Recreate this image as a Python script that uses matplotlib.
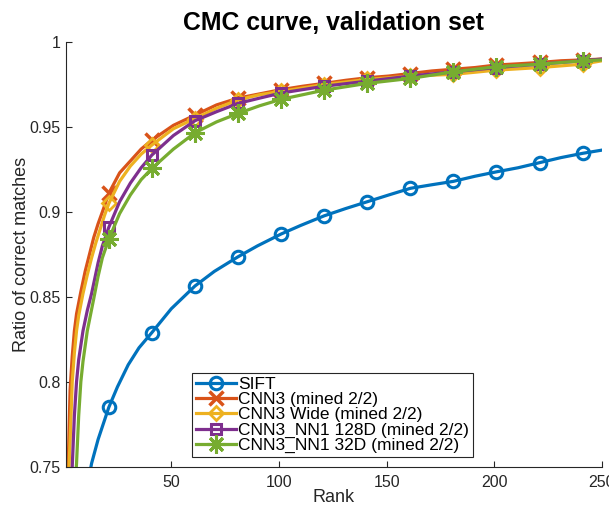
import matplotlib
matplotlib.use("Agg")
import matplotlib.pyplot as plt

plt.rcParams['font.family'] = ['Liberation Sans', 'DejaVu Sans']

# ---- data ----
sift_rank = [1, 5, 10, 13, 16, 21, 25, 30, 35, 41, 50, 61, 70, 81, 90, 101, 110, 121,
             131, 141, 151, 161, 171, 181, 191, 201, 211, 221, 231, 241, 250]
sift_val = [0.55, 0.66, 0.732, 0.752, 0.766, 0.785, 0.797, 0.810, 0.820, 0.829, 0.843,
            0.8564, 0.865, 0.8736, 0.880, 0.887, 0.892, 0.8977, 0.902, 0.906, 0.910,
            0.9139, 0.916, 0.918, 0.921, 0.9236, 0.926, 0.929, 0.932, 0.9345, 0.9364]

cnn3_rank = [1, 2, 3, 4, 5, 6, 8, 10, 12, 14, 16, 18, 21, 26, 31, 36, 41, 51, 61, 71, 81,
             91, 101, 111, 121, 131, 141, 151, 161, 171, 181, 191, 201, 211, 221, 231,
             241, 250]
cnn3_val = [0.70, 0.745, 0.795, 0.815, 0.830, 0.840, 0.853, 0.865, 0.875, 0.885, 0.893,
            0.900, 0.911, 0.923, 0.930, 0.937, 0.9423, 0.951, 0.957, 0.963, 0.967,
            0.9695, 0.972, 0.974, 0.9757, 0.9775, 0.979, 0.980, 0.9815, 0.983, 0.984,
            0.985, 0.9865, 0.9872, 0.988, 0.989, 0.9895, 0.990]

wide_rank = [1, 2, 3, 4, 5, 6, 7, 9, 11, 13, 15, 17, 19, 21, 26, 31, 36, 41, 51, 61, 71,
             81, 91, 101, 121, 141, 161, 181, 201, 221, 241, 250]
wide_val = [0.69, 0.735, 0.765, 0.800, 0.817, 0.830, 0.839, 0.852, 0.863, 0.873, 0.882,
            0.890, 0.898, 0.905, 0.918, 0.927, 0.934, 0.9394, 0.949, 0.955, 0.961,
            0.966, 0.969, 0.971, 0.975, 0.978, 0.980, 0.981, 0.9835, 0.985, 0.987, 0.989]

nn128_rank = [1, 3, 4, 5, 6, 7, 9, 11, 13, 16, 18, 21, 26, 31, 36, 41, 51, 61, 71, 81,
              91, 101, 121, 141, 161, 181, 201, 221, 241, 250]
nn128_val = [0.65, 0.72, 0.75, 0.780, 0.800, 0.813, 0.830, 0.842, 0.852, 0.870, 0.880,
             0.891, 0.906, 0.917, 0.926, 0.9335, 0.945, 0.9537, 0.959, 0.9639, 0.967,
             0.970, 0.974, 0.977, 0.980, 0.9825, 0.985, 0.987, 0.989, 0.990]

nn32_rank = [1, 4, 6, 7, 8, 9, 11, 14, 16, 18, 21, 26, 31, 36, 41, 51, 61, 71, 81, 91,
             101, 121, 141, 161, 181, 201, 221, 241, 250]
nn32_val = [0.62, 0.71, 0.752, 0.780, 0.800, 0.812, 0.830, 0.849, 0.862, 0.873, 0.884,
            0.899, 0.910, 0.919, 0.9256, 0.937, 0.9466, 0.953, 0.958, 0.9625, 0.9663,
            0.9717, 0.9757, 0.9786, 0.9825, 0.9855, 0.987, 0.989, 0.9895]

marker_ranks = [1, 21, 41, 61, 81, 101, 121, 141, 161, 181, 201, 221, 241]

labels = ['SIFT', 'CNN3 (mined 2/2)', 'CNN3 Wide (mined 2/2)',
          'CNN3_NN1 128D (mined 2/2)', 'CNN3_NN1 32D (mined 2/2)']
xticks = [50, 100, 150, 200, 250]
yticks = [0.75, 0.8, 0.85, 0.9, 0.95, 1.0]
ytick_labels = ['0.75', '0.8', '0.85', '0.9', '0.95', '1']

series = [(sift_rank, sift_val), (cnn3_rank, cnn3_val), (wide_rank, wide_val),
          (nn128_rank, nn128_val), (nn32_rank, nn32_val)]
colors = ['#0072BD', '#D95319', '#EDB120', '#7E2F8E', '#77AC30']
markers = ['o', 'x', 'D', 's', (8, 2, 0)]
msizes = [9, 10, 7, 7.5, 13]
mews = [2.2, 2.5, 2.0, 2.2, 2.2]

fig = plt.figure(figsize=(6.09, 5.07), dpi=100)
ax = fig.add_axes([0.108, 0.0795, 0.8805, 0.8375])

for (r, v), c, m, ms, mew, lab in zip(series, colors, markers, msizes, mews, labels):
    idx = [i for i, rv in enumerate(r) if rv in marker_ranks]
    ax.plot(r, v, color=c, lw=2.3, marker=m, markevery=idx, ms=ms, mew=mew,
            mfc='none', mec=c, label=lab)

ax.set_xlim(1, 250)
ax.set_ylim(0.75, 1.0)
ax.set_xticks(xticks)
ax.set_yticks(yticks)
ax.set_yticklabels(ytick_labels)
ax.tick_params(direction='in', length=4.5, width=0.8, colors='#262626', labelsize=11.5)
ax.tick_params(axis='x', pad=6)
for s in ['top', 'right']:
    ax.spines[s].set_visible(False)
for s in ['left', 'bottom']:
    ax.spines[s].set_color('#262626')
    ax.spines[s].set_linewidth(0.8)

ax.set_xlabel('Rank', fontsize=13, color='#262626', labelpad=-1)
ax.set_ylabel('Ratio of correct matches', fontsize=13, color='#262626', labelpad=0)
ax.set_title('CMC curve, validation set', fontsize=17.8, fontweight='bold', pad=9)

leg = ax.legend(loc='lower left', bbox_to_anchor=(0.2355, 0.022), borderaxespad=0,
                fontsize=12.5, frameon=True, fancybox=False, edgecolor='#262626',
                framealpha=1, borderpad=0.25, labelspacing=0.0, handlelength=2.3,
                handletextpad=0.1, handleheight=0.7)
leg.get_frame().set_linewidth(0.8)

fig.savefig('out.png', dpi=100)
